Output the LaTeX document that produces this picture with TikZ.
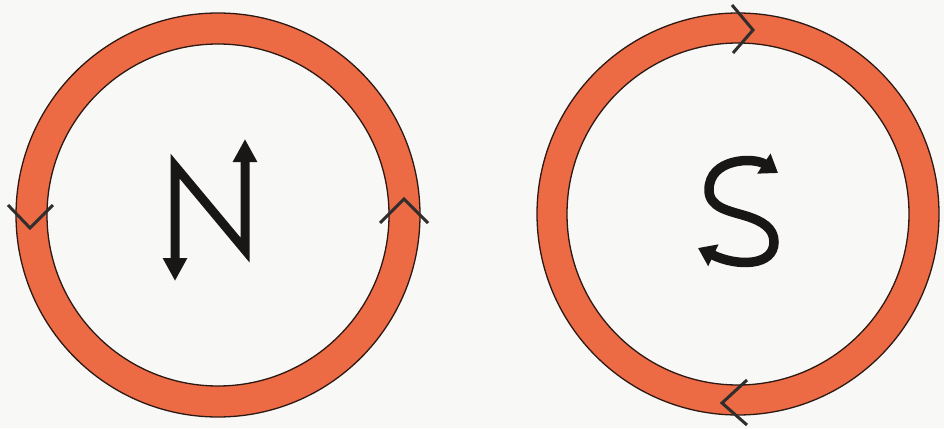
\documentclass[tikz,border=0pt]{standalone}
\usetikzlibrary{arrows.meta}
\definecolor{ringorange}{RGB}{236,106,68}
\definecolor{ringedge}{RGB}{45,25,20}
\definecolor{pagebg}{RGB}{248,248,247}
\definecolor{ink}{RGB}{25,22,22}
\tikzset{
  ring/.style={fill=ringorange, draw=ringedge, line width=1.3pt, even odd rule},
  chevron/.style={draw=ink!90, line width=3pt, line join=miter, line cap=butt},
  letterarrow/.style={draw=ink, line width=9pt, line join=miter, miter limit=10,
    {Triangle[width=23pt,length=23pt]}-{Triangle[width=23pt,length=23pt]}},
  letterarrowS/.style={draw=ink, line width=9.5pt,
    {Triangle[width=23pt,length=17pt]}-{Triangle[width=23pt,length=17pt]}}
}
\begin{document}
\begin{tikzpicture}[x=1pt,y=-1pt]
\fill[pagebg] (0,0) rectangle (944,428);
\useasboundingbox (0,0) rectangle (944,428);

% centres
\coordinate (cN) at (218,215);
\coordinate (cS) at (738,214);

% rings
\path[ring] (cN) circle[radius=202pt] (cN) circle[radius=171pt];
\path[ring] (cS) circle[radius=201pt] (cS) circle[radius=171pt];

% chevrons on the left ring (anticlockwise)
\coordinate (l1a) at (8,205);  \coordinate (l1v) at (30,228);  \coordinate (l1b) at (53,205);
\coordinate (l2a) at (380,223); \coordinate (l2v) at (404,199); \coordinate (l2b) at (428,223);
\draw[chevron] (l1a) -- (l1v) -- (l1b);
\draw[chevron] (l2a) -- (l2v) -- (l2b);

% chevrons on the right ring (clockwise)
\coordinate (r1a) at (732,5);   \coordinate (r1v) at (753,30);  \coordinate (r1b) at (733,53);
\coordinate (r2a) at (747,380); \coordinate (r2v) at (722,403); \coordinate (r2b) at (747,425);
\draw[chevron] (r1a) -- (r1v) -- (r1b);
\draw[chevron] (r2a) -- (r2v) -- (r2b);

% N with arrow ends
\coordinate (nTipL) at (175,281);
\coordinate (nTL) at (175,166);
\coordinate (nBR) at (245,250);
\coordinate (nTipR) at (245,139);
\draw[letterarrow] (nTipL) -- (nTL) -- (nBR) -- (nTipR);

% S with arrow ends
\coordinate (sTipT) at (778,173);
\coordinate (sL) at (709,190);
\coordinate (sR) at (774,242);
\coordinate (sTipB) at (698,248);
\draw[letterarrowS] (sTipT) .. controls (754,157) and (709,158) .. (sL)
  .. controls (709,208) and (730,211) .. (746,216)
  .. controls (762,221) and (774,228) .. (sR)
  .. controls (774,266) and (738,267) .. (sTipB);
\end{tikzpicture}
\end{document}
